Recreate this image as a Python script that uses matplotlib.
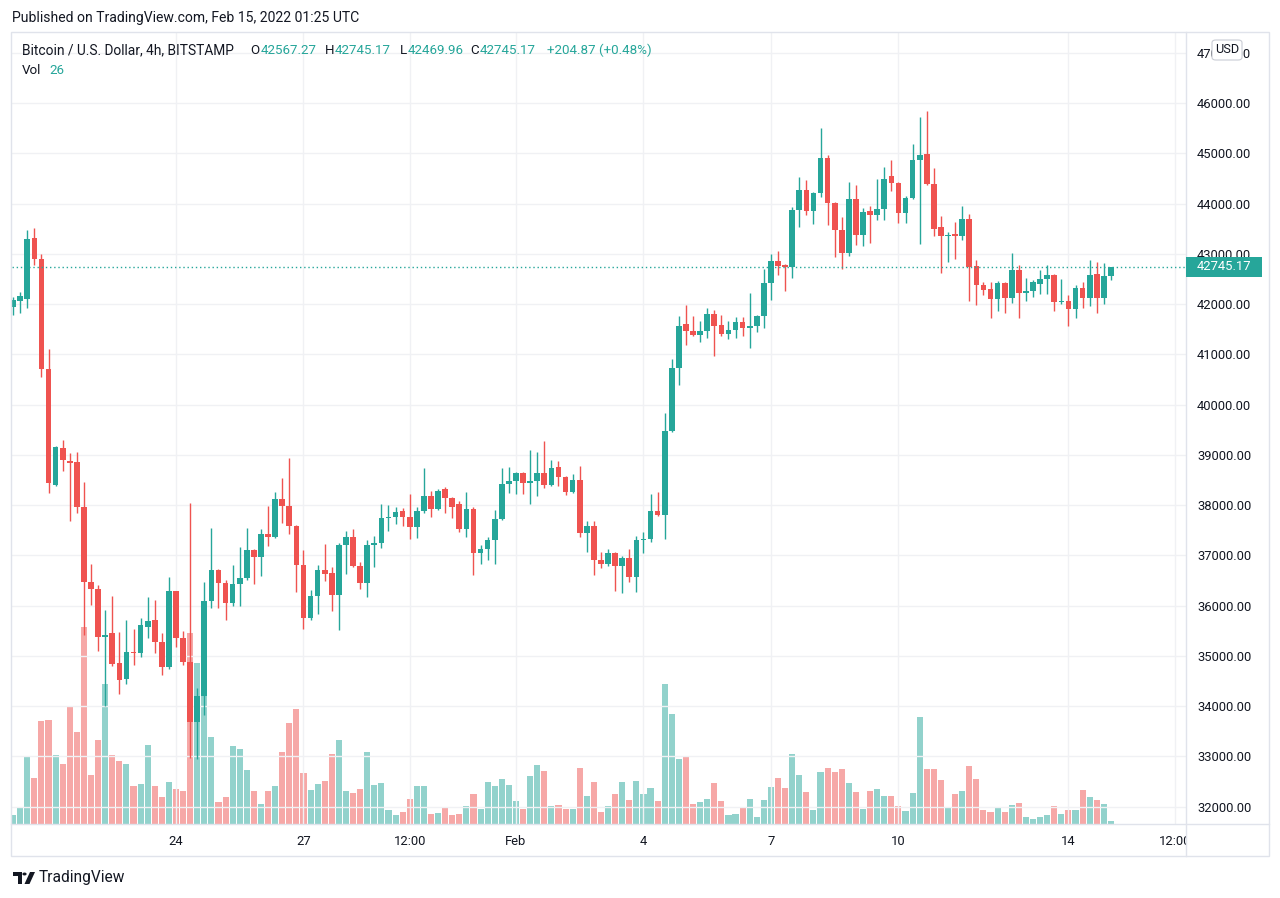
import numpy as np
import pandas as pd
import matplotlib
matplotlib.use("Agg")
import matplotlib.pyplot as plt
from matplotlib.patches import Rectangle, FancyBboxPatch, Circle, Polygon
from matplotlib.lines import Line2D

# ---------------- data (BTC/USD 4h, BITSTAMP) ----------------
start_time = "2022-01-20 04:00"
opens = [41946, 42066, 42106, 43313, 42902, 40713, 38398, 39134, 38882, 38855,
         37967, 36460, 36335, 35380, 35450, 34860, 34538, 35075, 35055, 35570,
         35712, 35274, 34782, 36289, 35353, 34882, 33688, 34199, 36090, 36707,
         36448, 36056, 36428, 36547, 37105, 36965, 37423, 37363, 38120, 37980,
         37582, 36806, 35751, 36189, 36707, 36647, 36209, 37204, 37363, 36786,
         36448, 37204, 37244, 37741, 37761, 37881, 37761, 37562, 37881, 38179,
         37920, 38318, 38139, 38020, 37522, 37920, 37045, 37125, 37304, 37722,
         38418, 38478, 38637, 38438, 38478, 38637, 38398, 38756, 38557, 38259,
         38498, 37443, 37582, 36906, 36826, 37045, 36786, 36945, 36567, 37304,
         37323, 37881, 37801, 39473, 40726, 41602, 41463, 41383, 41463, 41801,
         41582, 41403, 41483, 41642, 41522, 41562, 41761, 42418, 42856, 42776,
         42740, 43871, 44269, 43851, 44209, 44905, 44010, 43473, 43015, 44090,
         43373, 43851, 43771, 43891, 44547, 44408, 43811, 44109, 44866, 44985,
         44388, 43532, 43353, 43393, 43353, 43692, 42756, 42378, 42299, 42100,
         42418, 42120, 42677, 42219, 42259, 42398, 42491, 42577, 42040, 42060,
         41907, 42318, 42126, 42597, 42126, 42567.27]
highs = [42133, 42239, 43473, 43512, 42995, 41104, 39170, 39294, 39035, 39055,
         38458, 36826, 36408, 35911, 36189, 35473, 35712, 35533, 35751, 36169,
         36110, 35459, 36574, 36290, 35499, 38040, 34358, 36468, 37542, 36720,
         36508, 36806, 37164, 37542, 37120, 37522, 37980, 38259, 38537, 38935,
         37600, 37105, 36309, 36806, 37224, 36766, 37244, 37483, 37522, 36866,
         37304, 37383, 38020, 38000, 37960, 37940, 38219, 37960, 38736, 38279,
         38318, 38358, 38159, 38080, 38259, 37960, 37204, 37363, 37900, 38736,
         38756, 38657, 38650, 39095, 39055, 39274, 38896, 38876, 38570, 38617,
         38776, 37682, 37682, 37065, 37125, 37060, 36980, 37125, 37383, 37463,
         38219, 38259, 39831, 40905, 41761, 41980, 41761, 41662, 41920, 41881,
         41781, 41662, 41741, 41741, 42219, 41781, 42697, 42995, 43055, 42790,
         43931, 44527, 44468, 44230, 45502, 44965, 44030, 43731, 44428, 44368,
         43910, 43950, 44488, 44726, 44866, 44420, 44149, 45184, 45721, 45841,
         44706, 43751, 43433, 43632, 43950, 43791, 42876, 42438, 42438, 42458,
         42438, 43015, 42776, 42517, 42478, 42677, 42776, 42597, 42498, 42179,
         42378, 42438, 42876, 42836, 42816, 42745.17]
lows = [41787, 41827, 41927, 42783, 40554, 38245, 38380, 38683, 37682, 37847,
        35413, 36010, 35095, 34000, 34796, 34239, 34438, 34816, 34975, 35353,
        35055, 34617, 34736, 35180, 34816, 32971, 32952, 33821, 35957, 35957,
        35711, 35996, 35996, 36508, 36428, 36587, 37184, 37340, 37642, 37423,
        36269, 35539, 35711, 35831, 36488, 35891, 35513, 36627, 36770, 36328,
        36169, 36766, 37144, 37483, 37622, 37582, 37324, 37344, 37841, 37761,
        37900, 37841, 37741, 37463, 37363, 36607, 36826, 36906, 36826, 37702,
        38239, 38219, 38219, 38020, 38179, 38338, 38378, 38378, 38199, 38240,
        37363, 37065, 36607, 36746, 36780, 36289, 36249, 36468, 36269, 37045,
        37264, 37790, 37323, 39460, 40388, 41184, 41370, 41244, 41323, 40965,
        41363, 41304, 41323, 41363, 41124, 41443, 41522, 42080, 42577, 42259,
        42525, 43532, 43771, 43592, 44129, 43572, 42935, 42697, 42955, 43174,
        43154, 43214, 43672, 43672, 44249, 43612, 43612, 44090, 43194, 44368,
        43353, 42617, 42836, 42896, 43274, 42060, 41980, 42179, 41721, 41861,
        41821, 42020, 41721, 42060, 42139, 42199, 42199, 41861, 42000, 41569,
        41728, 41927, 41967, 41827, 42006, 42469.96]
closes = [42080, 42159, 43294, 42902, 40713, 38444, 39154, 38902, 38842, 37967,
          36474, 36335, 35380, 35406, 34836, 34518, 35075, 35055, 35612, 35692,
          35274, 34782, 36289, 35353, 34882, 33688, 34199, 36090, 36707, 36448,
          36056, 36428, 36547, 37105, 36965, 37423, 37363, 38120, 37980, 37582,
          36806, 35758, 36189, 36707, 36627, 36209, 37204, 37363, 36786, 36448,
          37204, 37244, 37741, 37761, 37861, 37761, 37562, 37881, 38179, 37920,
          38279, 38139, 37960, 37522, 37920, 37045, 37125, 37304, 37722, 38418,
          38478, 38637, 38438, 38478, 38637, 38398, 38736, 38557, 38259, 38498,
          37443, 37582, 36906, 36826, 37045, 36786, 36945, 36567, 37304, 37323,
          37881, 37801, 39473, 40726, 41562, 41463, 41383, 41463, 41801, 41562,
          41403, 41483, 41642, 41522, 41562, 41761, 42418, 42856, 42756, 42740,
          43871, 44269, 43851, 44209, 44905, 44010, 43473, 43015, 44090, 43373,
          43831, 43771, 43891, 44488, 44408, 43811, 44109, 44866, 44965, 44388,
          43493, 43353, 43373, 43353, 43692, 42736, 42378, 42279, 42100, 42418,
          42120, 42677, 42219, 42259, 42438, 42498, 42577, 42046, 42060, 41907,
          42318, 42126, 42577, 42126, 42567, 42745.17]
volumes = [74, 130, 538, 370, 826, 834, 554, 482, 946, 738,
           1576, 394, 674, 1122, 554, 506, 482, 306, 322, 634,
           306, 218, 338, 282, 266, 1525, 1290, 1280, 698, 178,
           218, 626, 602, 434, 266, 162, 266, 306, 578, 810,
           922, 410, 274, 322, 346, 562, 674, 266, 250, 282,
           578, 314, 330, 114, 74, 98, 202, 306, 306, 82,
           90, 130, 74, 82, 146, 242, 122, 338, 306, 362,
           314, 186, 122, 386, 474, 426, 146, 154, 122, 122,
           450, 226, 338, 98, 146, 242, 338, 194, 346, 242,
           290, 186, 1122, 882, 522, 538, 162, 178, 202, 330,
           186, 74, 82, 130, 202, 58, 194, 298, 370, 290,
           562, 394, 258, 114, 418, 450, 418, 442, 330, 258,
           122, 266, 282, 226, 226, 146, 106, 250, 858, 442,
           442, 354, 130, 242, 266, 466, 362, 114, 98, 130,
           98, 154, 170, 58, 42, 58, 74, 146, 82, 114,
           114, 274, 218, 194, 162, 26]
tick_times = ["2022-01-24 00:00", "2022-01-27 00:00", "2022-01-29 12:00",
              "2022-02-01 00:00", "2022-02-04 00:00", "2022-02-07 00:00",
              "2022-02-10 00:00", "2022-02-14 00:00", "2022-02-16 12:00"]
tick_labels = ["24", "27", "12:00", "Feb", "4", "7", "10", "14", "12:00"]
price_ticks = list(range(32000, 48000, 1000))
last_price = 42745.17
legend_title = "Bitcoin / U.S. Dollar, 4h, BITSTAMP"
legend_ohlc = [("O", "42567.27"), ("H", "42745.17"), ("L", "42469.96"), ("C", "42745.17")]
legend_change = "+204.87 (+0.48%)"
last_vol = "26"

# ---------------- style ----------------
UP = "#26a69a"
DOWN = "#ef5350"
TXT = "#131722"
GRID = "#f0f1f4"
BORDER = "#e0e3eb"

plt.rcParams['font.family'] = ['Roboto', 'DejaVu Sans']

W, H = 1280, 898
fig = plt.figure(figsize=(W / 100, H / 100), dpi=100)
fig.patch.set_facecolor("white")

def fx(px):
    return px / W

def fy(py):
    return 1 - py / H

L, R, T, B = 12, 1186, 32, 824
rect = [fx(L), fy(B), (R - L) / W, (B - T) / H]
axv = fig.add_axes(rect)
ax = fig.add_axes(rect, sharex=axv)
ax.set_zorder(axv.get_zorder() + 1)
ax.patch.set_visible(False)

times = pd.date_range(start_time, periods=len(opens), freq="4h")
step = pd.Timedelta("4h")
xpos = np.asarray((times - times[0]) / step, dtype=float)
o = np.array(opens, float)
h = np.array(highs, float)
l = np.array(lows, float)
c = np.array(closes, float)
v = np.array(volumes, float)
up = c >= o
cols = np.where(up, UP, DOWN)

# volume
axv.bar(xpos, v, width=0.86, color=cols, alpha=0.5, linewidth=0)
axv.set_ylim(0, 6336)
axv.tick_params(axis='both', which='both', bottom=False, top=False, left=False,
                right=False, labelbottom=False, labelleft=False)
axv.grid(False)
for s in axv.spines.values():
    s.set_visible(False)

# candles
ax.vlines(xpos, l, h, colors=cols, linewidth=1.0, zorder=3)
body_bottom = np.minimum(o, c)
body_h = np.maximum(np.abs(c - o), 20)
ax.bar(xpos, body_h, bottom=body_bottom, width=0.8, color=cols, linewidth=0, zorder=4)

ax.set_xlim(-0.155, 165.6)
ax.set_ylim(31652, 47413)

# last price line
ax.axhline(last_price, color=UP, linewidth=1.0, linestyle=(0, (1, 2)), zorder=5)

# ticks & grid
tick_pos = np.asarray((pd.to_datetime(tick_times) - times[0]) / step, dtype=float)
ax.set_xticks(tick_pos)
ax.set_xticklabels(tick_labels)
ax.set_yticks(price_ticks)
ax.set_yticklabels([f"{p:.2f}" for p in price_ticks])
ax.yaxis.tick_right()
ax.tick_params(axis='y', length=0, pad=8, labelsize=9.4, labelcolor=TXT)
ax.tick_params(axis='x', length=0, pad=8, labelsize=9.4, labelcolor=TXT)
ax.grid(True, color=GRID, linewidth=1.0, zorder=0)
ax.set_axisbelow(True)
for s in ax.spines.values():
    s.set_visible(False)

# frame lines
fig.add_artist(Rectangle((fx(11), fy(856)), (1269 - 11) / W, (856 - 32) / H,
                         transform=fig.transFigure, fill=False, edgecolor=BORDER,
                         linewidth=1, zorder=20))
fig.add_artist(Line2D([fx(R), fx(R)], [fy(32), fy(856)], color=BORDER, lw=1,
                      transform=fig.transFigure, zorder=20))
fig.add_artist(Line2D([fx(11), fx(1269)], [fy(B), fy(B)], color=BORDER, lw=1,
                      transform=fig.transFigure, zorder=20))
# blank the price-axis corner under the time axis (clips the last label)
fig.add_artist(Rectangle((fx(R + 1), fy(855)), (1268 - R - 1) / W, (855 - B - 1) / H,
                         transform=fig.transFigure, facecolor="white",
                         edgecolor="none", zorder=19))

# last price label on the axis
fig.canvas.draw()
ydisp = ax.transData.transform((0, last_price))[1]
yf = ydisp / H
fig.add_artist(Rectangle((fx(R), yf - 10 / H), 76 / W, 20 / H, transform=fig.transFigure,
                         facecolor=UP, edgecolor="none", zorder=21))
fig.text(fx(1197), yf, f"{last_price:.2f}", color="white", fontsize=9.4,
         va="center", ha="left", zorder=22)

# USD badge
fig.add_artist(FancyBboxPatch((fx(1212), fy(60)), 30 / W, 20 / H,
                              boxstyle="round,pad=0,rounding_size=0.003",
                              transform=fig.transFigure, facecolor="white",
                              edgecolor="#c9ccd4", linewidth=0.8, zorder=21))
fig.text(fx(1227), fy(49.5), "USD", color=TXT, fontsize=9.2, ha="center",
         va="center", zorder=22)

# header
fig.text(fx(12), fy(18), "Published on TradingView.com, Feb 15, 2022 01:25 UTC",
         color=TXT, fontsize=10.1, va="center", ha="left")

# legend
fig.text(fx(21.5), fy(50), legend_title, color=TXT, fontsize=9.9, va="center")
leg_x = [(250.7, 260.6), (325.2, 334.8), (399.8, 407.6), (470.5, 479.6)]
for (k, val), (xk, xv) in zip(legend_ohlc, leg_x):
    fig.text(fx(xk), fy(50), k, color=TXT, fontsize=9.6, va="center")
    fig.text(fx(xv), fy(50), val, color=UP, fontsize=9.6, va="center")
fig.text(fx(547.3), fy(50), legend_change, color=UP, fontsize=9.6, va="center")
fig.text(fx(21.5), fy(70.5), "Vol", color=TXT, fontsize=9.6, va="center")
fig.text(fx(49), fy(70.5), last_vol, color=UP, fontsize=9.6, va="center")

# TradingView logo
logo_c = TXT
fig.add_artist(Polygon([(fx(12.5), fy(872)), (fx(21.5), fy(872)), (fx(21.5), fy(884)),
                        (fx(17.5), fy(884)), (fx(17.5), fy(876)), (fx(12.5), fy(876))],
                       closed=True, transform=fig.transFigure, facecolor=logo_c,
                       edgecolor="none"))
fig.add_artist(Circle((fx(24.5), fy(874)), 2.1 / W, transform=fig.transFigure,
                      facecolor=logo_c, edgecolor="none"))
fig.add_artist(Polygon([(fx(30), fy(872)), (fx(35), fy(872)), (fx(29.5), fy(884)),
                        (fx(24.5), fy(884))], closed=True, transform=fig.transFigure,
                       facecolor=logo_c, edgecolor="none"))
fig.text(fx(38.5), fy(877.5), "TradingView", color=logo_c, fontsize=11.2,
         va="center", ha="left")

fig.savefig("out.png", dpi=100, facecolor="white")
